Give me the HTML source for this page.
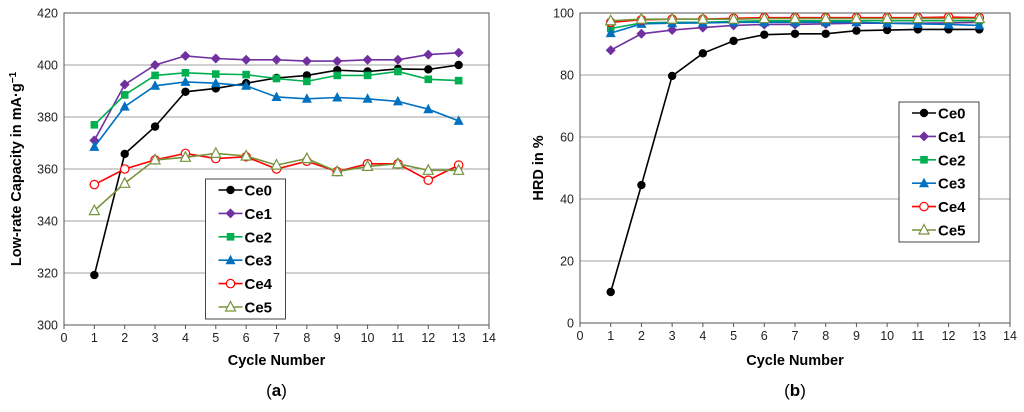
<!DOCTYPE html>
<html><head><meta charset="utf-8"><style>
body{margin:0;background:#fff;font-family:"Liberation Sans",Arial,sans-serif}
svg text{font-family:"Liberation Sans",Arial,sans-serif}
</style></head><body>
<svg id="s" width="1024" height="407" xmlns="http://www.w3.org/2000/svg"></svg>
<script>
const cycles=[1,2,3,4,5,6,7,8,9,10,11,12,13];
const seriesNames=["Ce0","Ce1","Ce2","Ce3","Ce4","Ce5"];
const capCe0=[319.2,365.8,376.3,389.7,391,393,395,396,398,397.5,398.5,398.3,400];
const capCe1=[371,392.5,400,403.5,402.5,402,402,401.5,401.5,402,402,404,404.7];
const capCe2=[377,388.5,396,397,396.5,396.3,394.8,393.7,396,396,397.5,394.5,394];
const capCe3=[368.5,384,392,393.5,393,392,387.7,387,387.5,387,386,383,378.5];
const capCe4=[354,360,363.5,366,364,364.7,360,363,359,362,362,355.7,361.5];
const capCe5=[344,354.5,363.5,364.5,366,365,361.5,364,359,361,362,359.5,359.5];
const hrdCe0=[10,44.5,79.7,87,91,93,93.3,93.3,94.3,94.5,94.7,94.7,94.7];
const hrdCe1=[88,93.3,94.5,95.3,96,96.3,96.3,96.5,96.7,96.7,96.7,96.8,97];
const hrdCe2=[95,96.8,97,97,97.3,97.5,97.5,97.5,97.5,97.5,97.5,97.5,97.5];
const hrdCe3=[93.5,96.5,96.7,96.8,97,97,97,97,97,96.7,96.5,96.3,96];
const hrdCe4=[97,97.8,98,98,98.3,98.5,98.5,98.5,98.5,98.5,98.5,98.7,98.5];
const hrdCe5=[97.5,98,98,98,98,98.2,98.2,98.2,98.2,98.2,98.2,98.2,98.2];
const xTicks=[0,1,2,3,4,5,6,7,8,9,10,11,12,13,14];
const capTicks=[300,320,340,360,380,400,420];
const hrdTicks=[0,20,40,60,80,100];

const colors=["#000000","#7030a0","#00b050","#0070c0","#ff0000","#77933c"];
const markers=["circle","diamond","square","triangle","ocircle","otriangle"];
const S=document.getElementById('s');
const NS="http://www.w3.org/2000/svg";
function mk(tag,attrs,parent){const e=document.createElementNS(NS,tag);for(const k in attrs)e.setAttribute(k,attrs[k]);(parent||S).appendChild(e);return e;}
function marker(g,type,cx,cy,c){
  let e;
  if(type==="circle")e=mk('circle',{cx,cy,r:4.2,fill:c},g);
  else if(type==="ocircle")e=mk('circle',{cx,cy,r:4.2,fill:'#fff',stroke:c,'stroke-width':1.2},g);
  else if(type==="diamond")e=mk('polygon',{points:`${cx},${cy-5} ${cx+5},${cy} ${cx},${cy+5} ${cx-5},${cy}`,fill:c},g);
  else if(type==="square")e=mk('rect',{x:cx-3.8,y:cy-3.8,width:7.6,height:7.6,fill:c},g);
  else if(type==="triangle")e=mk('polygon',{points:`${cx},${cy-5.5} ${cx+5},${cy+4} ${cx-5},${cy+4}`,fill:c},g);
  else e=mk('polygon',{points:`${cx},${cy-5.5} ${cx+5},${cy+4} ${cx-5},${cy+4}`,fill:'#fff',stroke:c,'stroke-width':1.2},g);
  
  
}
function chart(o){
  const g=mk('g',{});
  
  
  const X=v=>o.x0+(v-0)*(o.x1-o.x0)/14;
  const Y=v=>o.y1-(v-o.ymin)*(o.y1-o.y0)/(o.ymax-o.ymin);
  o.yt.forEach(t=>{
    const l=mk('line',{x1:o.x0,x2:o.x1,y1:Y(t),y2:Y(t),stroke:'#a0a0a0','stroke-width':1},g);
    
    const tx=mk('text',{x:o.x0-6,y:Y(t)+4.5,'text-anchor':'end','font-size':12.5,fill:'#222'},g);
    tx.textContent=t;
    
  });
  const fr=mk('rect',{x:o.x0,y:o.y0,width:o.x1-o.x0,height:o.y1-o.y0,fill:'none',stroke:'#555','stroke-width':1},g);
  
  xTicks.forEach(t=>{
    mk('line',{x1:X(t),x2:X(t),y1:o.y1,y2:o.y1+4,stroke:'#555'},g);
    const tx=mk('text',{x:X(t),y:o.y1+17,'text-anchor':'middle','font-size':12.5,fill:'#222'},g);
    tx.textContent=t;
    
  });
  o.data.forEach((d,i)=>{
    const sg=mk('g',{},g);
    
    
    mk('polyline',{points:cycles.map((c,j)=>X(c)+','+Y(d[j])).join(' '),fill:'none',stroke:colors[i],'stroke-width':1.6},sg);
    cycles.forEach((c,j)=>marker(sg,markers[i],X(c),Y(d[j]),colors[i]));
  });
  const lg=mk('g',{},g);
  
  mk('rect',{x:o.lx,y:o.ly,width:80,height:140,fill:'#fff',stroke:'#444','stroke-width':1},lg);
  seriesNames.forEach((n,i)=>{
    const yy=o.ly+11+i*23.4;
    const eg=mk('g',{},lg);
    
    mk('line',{x1:o.lx+13,x2:o.lx+37,y1:yy,y2:yy,stroke:colors[i],'stroke-width':1.6},eg);
    marker(eg,markers[i],o.lx+25,yy,colors[i]);
    const t=mk('text',{x:o.lx+39,y:yy+5.5,'font-size':15,'font-weight':'bold',fill:'#000'},eg);t.textContent=n;
  });
  const xt=mk('text',{x:(o.x0+o.x1)/2,y:365,'text-anchor':'middle','font-size':14.5,'font-weight':'bold'},g);
  xt.textContent="Cycle Number";
  
  const yt=mk('text',{x:0,y:0,'text-anchor':'middle','font-size':14.5,'font-weight':'bold',transform:`translate(${o.ytx},${(o.y0+o.y1)/2}) rotate(-90)`},g);
  yt.innerHTML=o.ytitle;
  
  const cap=mk('text',{x:(o.x0+o.x1)/2,y:396,'text-anchor':'middle','font-size':17,'font-family':'Liberation Serif'},g);
  cap.innerHTML=o.cap;
  
}
chart({name:'chart-a',x0:64,x1:489,y0:13,y1:325,ymin:300,ymax:420,yt:capTicks,
  data:[capCe0,capCe1,capCe2,capCe3,capCe4,capCe5],lx:205.5,ly:179,ytx:21,
  ytitle:'Low-rate Capacity in mA·g<tspan dy="-5" font-size="10">−1</tspan>',cap:'(<tspan font-weight="bold">a</tspan>)'});
chart({name:'chart-b',x0:580,x1:1010,y0:13,y1:323,ymin:0,ymax:100,yt:hrdTicks,
  data:[hrdCe0,hrdCe1,hrdCe2,hrdCe3,hrdCe4,hrdCe5],lx:899,ly:102,ytx:543,
  ytitle:'HRD in %',cap:'(<tspan font-weight="bold">b</tspan>)'});
</script>
</body></html>
